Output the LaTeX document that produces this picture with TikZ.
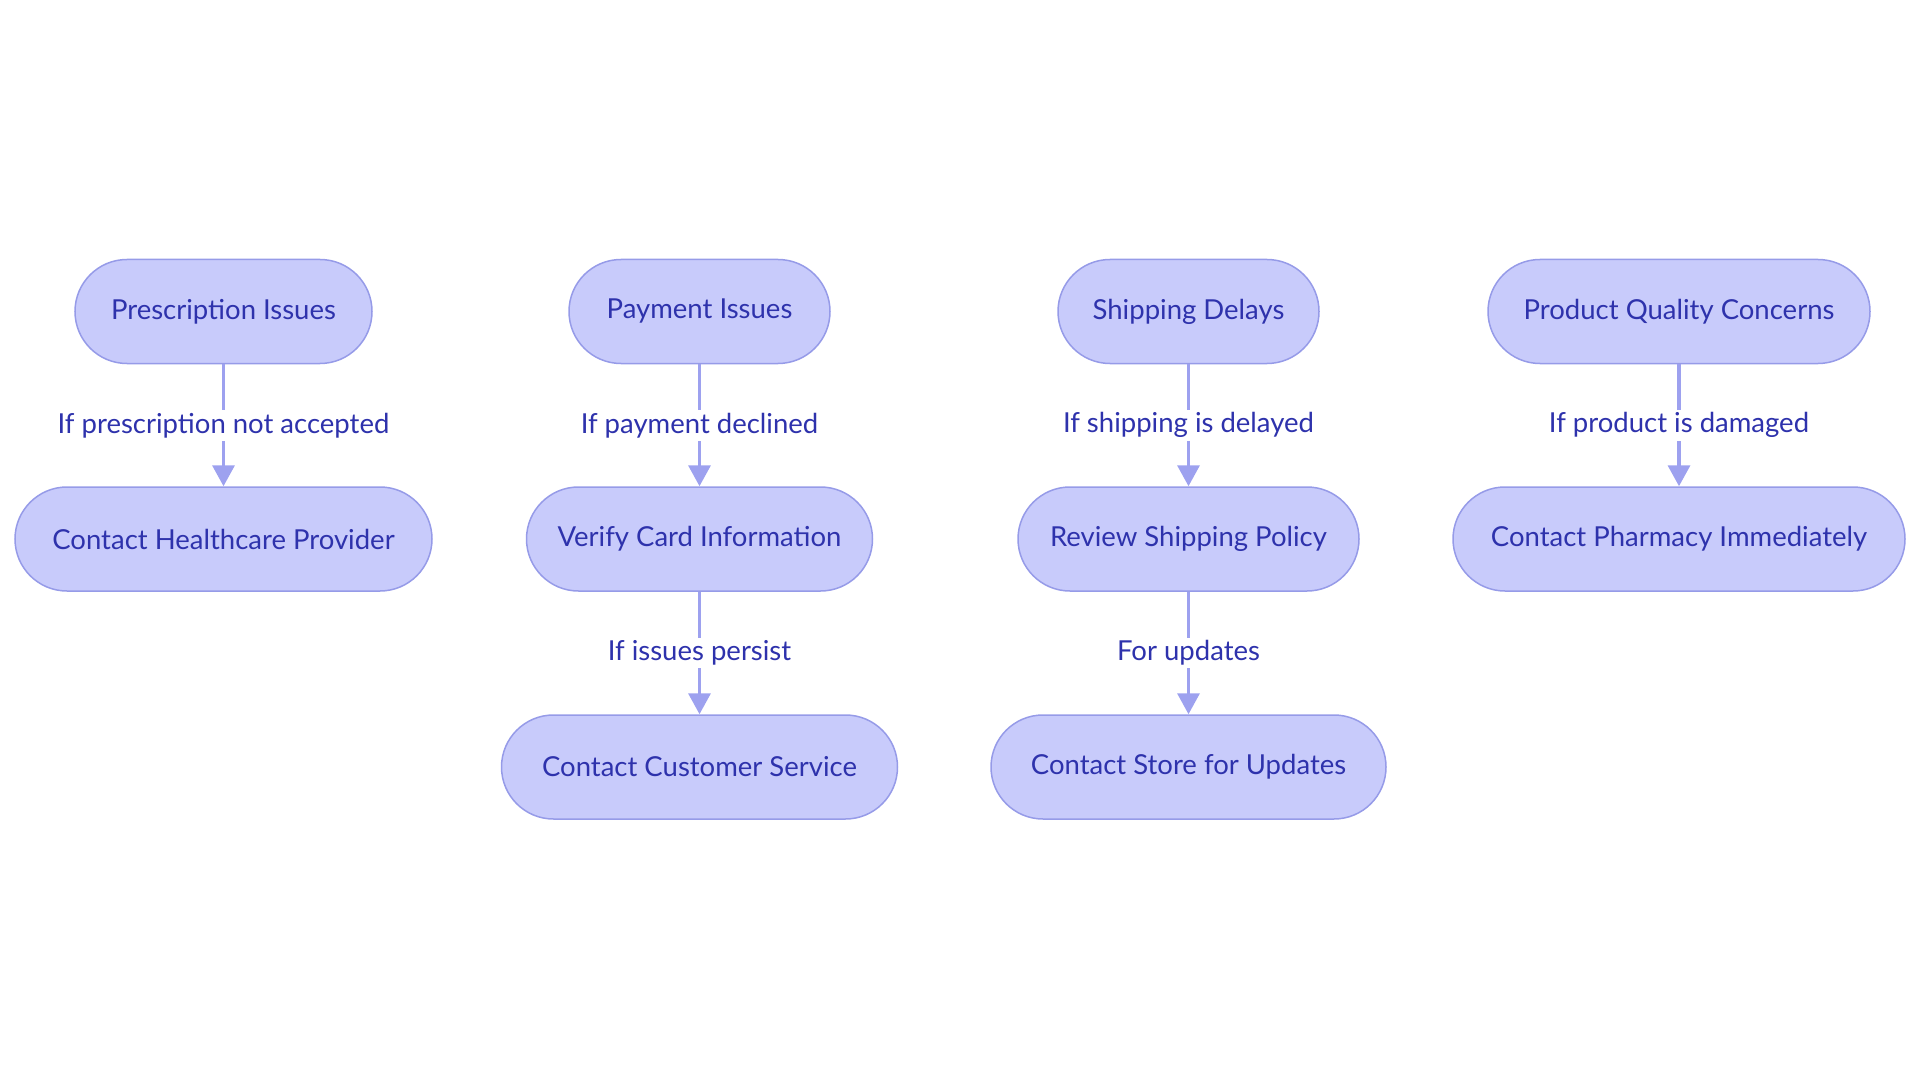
\documentclass[tikz,border=0pt]{standalone}
\usepackage{fontspec}
\setmainfont{Lato}
\usetikzlibrary{arrows.meta}
\definecolor{boxfill}{RGB}{200,203,251}
\definecolor{boxline}{RGB}{150,155,232}
\definecolor{boxtext}{RGB}{46,50,172}
\definecolor{flowline}{RGB}{157,161,239}
\tikzset{
	stepbox/.style={draw=boxline, line width=1.5pt, fill=boxfill, text=boxtext,
		rounded corners=52pt, minimum height=104pt, inner sep=0pt,
		font=\fontsize{27.5}{32}\selectfont},
	flow/.style={draw=flowline, line width=3.5pt, -{Triangle[width=22pt,length=21pt]}},
	flowlabel/.style={fill=white, text=boxtext, inner xsep=2pt, inner ysep=3pt,
		font=\fontsize{27.5}{32}\selectfont}
}
\begin{document}
\begin{tikzpicture}[x=1pt, y=-1pt]
	\useasboundingbox (0,0) rectangle (1920,1083);
	% first column
	\node[stepbox, minimum width=297pt] (pres) at (223.5,311.5) {Prescription Issues};
	\node[stepbox, minimum width=417pt] (hcp) at (223.5,539) {Contact Healthcare Provider};
	% second column
	\node[stepbox, minimum width=261pt] (pay) at (699.5,311.5) {Payment Issues};
	\node[stepbox, minimum width=346pt] (card) at (699.5,539) {Verify Card Information};
	\node[stepbox, minimum width=396pt] (serv) at (699.5,767) {Contact Customer Service};
	% third column
	\node[stepbox, minimum width=261pt] (ship) at (1188.5,311.5) {Shipping Delays};
	\node[stepbox, minimum width=341pt] (pol) at (1188.5,539) {Review Shipping Policy};
	\node[stepbox, minimum width=395pt] (upd) at (1188.5,767) {Contact Store for Updates};
	% fourth column
	\node[stepbox, minimum width=382pt] (qual) at (1679,311.5) {Product Quality Concerns};
	\node[stepbox, minimum width=452pt] (pharm) at (1679,539) {Contact Pharmacy Immediately};
	% connectors
	\draw[flow] (pres) -- node[flowlabel] {If prescription not accepted} (hcp);
	\draw[flow] (pay) -- node[flowlabel] {If payment declined} (card);
	\draw[flow] (card) -- node[flowlabel] {If issues persist} (serv);
	\draw[flow] (ship) -- node[flowlabel] {If shipping is delayed} (pol);
	\draw[flow] (pol) -- node[flowlabel] {For updates} (upd);
	\draw[flow] (qual) -- node[flowlabel] {If product is damaged} (pharm);
\end{tikzpicture}
\end{document}
